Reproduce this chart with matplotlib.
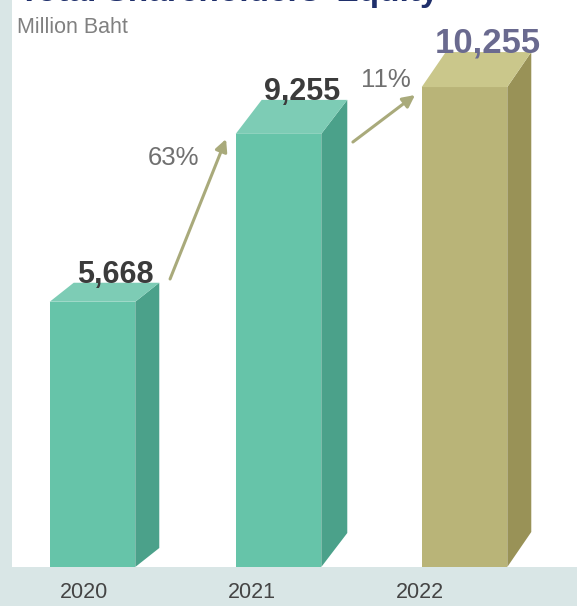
import matplotlib.pyplot as plt
from matplotlib.patches import Polygon

plt.rcParams['font.family'] = ['Liberation Sans', 'DejaVu Sans']

years = ['2020', '2021', '2022']
equity = [5668, 9255, 10255]  # million baht

# colours per bar: front, top, side
front_cols = ['#66c4a9', '#66c4a9', '#b9b478']
top_cols = ['#7dccb5', '#7dccb5', '#cac78b']
side_cols = ['#4ba18a', '#4ba18a', '#999257']
label_cols = ['#3b3b3b', '#3b3b3b', '#6a6a8f']
label_sizes = [22, 22, 25]

# box depth in pixels (dx, dy) for each bar
depth_px = [(24, 19), (26, 34), (24, 35)]

W, H = 577, 606
fig = plt.figure(figsize=(W / 100, H / 100), dpi=100, facecolor='#d9e6e6')

# white panel
left_px, bottom_px = 12, 567
ax = fig.add_axes([left_px / W, (H - bottom_px) / H, (W - left_px) / W, bottom_px / H])
ax.set_facecolor('white')
for s in ax.spines.values():
    s.set_visible(False)
ax.set_xticks([])
ax.set_yticks([])

px_x = 186.0      # pixels per category step
px_y = 0.0468     # pixels per million baht
x0 = (92.5 - left_px) / px_x
ax.set_xlim(-x0, (W - left_px) / px_x - x0)
ax.set_ylim(0, bottom_px / px_y)

bw = 0.46
for i, v in enumerate(equity):
    dx = depth_px[i][0] / px_x
    dy = depth_px[i][1] / px_y
    l, r = i - bw / 2, i + bw / 2
    ax.add_patch(Polygon([(l, 0), (r, 0), (r, v), (l, v)], closed=True,
                         fc=front_cols[i], ec='none'))
    ax.add_patch(Polygon([(r, 0), (r + dx, dy), (r + dx, v + dy), (r, v)], closed=True,
                         fc=side_cols[i], ec='none'))
    ax.add_patch(Polygon([(l, v), (r, v), (r + dx, v + dy), (l + dx, v + dy)], closed=True,
                         fc=top_cols[i], ec='none'))
    ax.text(i + 0.125, v + dy, f'{v:,}', ha='center', va='baseline',
            fontsize=label_sizes[i], fontweight='bold', color=label_cols[i])

# growth arrows between bars
arrow_col = '#a9aa7b'
arr = [((0.417, equity[0] + 486), (0.718, equity[1] - 110)),
       ((1.40, equity[1] - 174), (1.734, equity[2] - 170))]
pct_pos = [(0.433, 8739), (1.578, 10406)]
for k in range(len(equity) - 1):
    (xs, ys), (xe, ye) = arr[k]
    ax.annotate('', xy=(xe, ye), xytext=(xs, ys),
                arrowprops=dict(arrowstyle='-|>', lw=2.2, color=arrow_col,
                                mutation_scale=18, shrinkA=0, shrinkB=0))
    growth = (equity[k + 1] - equity[k]) / equity[k] * 100
    ax.text(pct_pos[k][0], pct_pos[k][1], f'{growth:.0f}%', ha='center', va='center',
            fontsize=18.5, color='#707070')

# year labels along the bottom strip
for i, y in enumerate(years):
    fig.text((84 + i * 168) / W, 1 - 592 / H, y, ha='center', va='center',
             fontsize=15.5, color='#444444')

fig.text(19 / W, 1 - 0.5 / H, "Total Shareholders' Equity", ha='left', va='baseline',
         fontsize=24, fontweight='bold', color='#1f2f6b')
fig.text(17 / W, 1 - 33 / H, 'Million Baht', ha='left', va='baseline',
         fontsize=15.5, color='#808080')

fig.savefig('out.png', dpi=100, facecolor=fig.get_facecolor())
